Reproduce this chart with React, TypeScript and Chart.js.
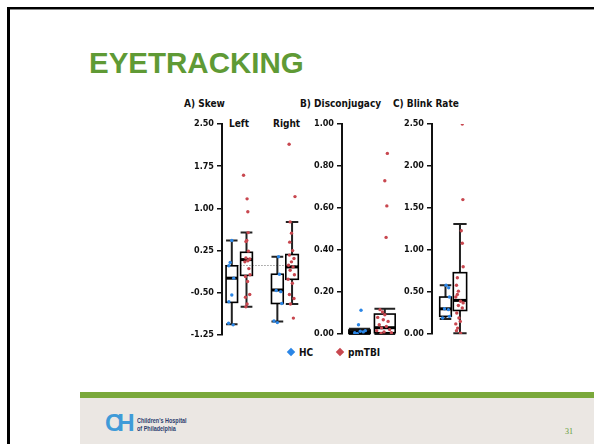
import React, { useEffect, useRef } from "react";
import { Chart, registerables } from "chart.js";

Chart.register(...registerables);

// ---------- DATA ----------
// Panel A: Skew (Left / Right eye)
const skewTicks = [-1.25, -0.5, 0.25, 1.0, 1.75, 2.5];
const skewLeftHC = [0.43, 0.04, -0.02, -0.24, -0.54, -0.66, -1.04, -1.07];
const skewLeftHCJit = [0, -0.11, -0.2, 0.13, 0, -0.2, -0.22, 0.09];
const skewLeftTBI = [1.59, 1.17, 0.94, 0.57, 0.43, 0.41, 0.24, 0.12, 0.1, 0.07, 0.05, -0.07, -0.18, -0.21, -0.3, -0.53, -0.58, -0.7, -0.75];
const skewLeftTBIJit = [-0.2, 0.04, 0.09, 0.11, 0.02, -0.04, 0.13, -0.04, 0.22, 0.09, -0.11, 0.16, 0.24, -0.07, 0.07, 0.22, -0.07, 0.04, -0.04];
const skewRightHC = [0.14, -0.17, -0.46, -0.48, -0.69, -1.0, -1.03];
const skewRightHCJit = [0.08, 0.14, -0.08, 0.23, 0.3, -0.23, 0];
const skewRightTBI = [2.14, 1.21, 0.76, 0.56, 0.4, 0.25, 0.17, 0.11, 0.05, -0.01, -0.04, -0.1, -0.18, -0.26, -0.33, -0.53, -0.6, -0.7, -0.95];
const skewRightTBIJit = [-0.2, 0.2, -0.13, -0.04, -0.16, 0.04, -0.18, 0.13, -0.04, -0.24, 0.07, -0.13, 0.16, -0.27, 0.02, -0.18, 0.13, -0.11, 0.09];
// box stats: [lower whisker, q1, median, q3, upper whisker]
const skewLeftHCBox = [-1.06, -0.67, -0.24, -0.02, 0.43];
const skewLeftTBIBox = [-0.75, -0.19, 0.09, 0.22, 0.57];
const skewRightHCBox = [-1.01, -0.69, -0.45, -0.17, 0.14];
const skewRightTBIBox = [-0.7, -0.26, -0.04, 0.18, 0.76];
const skewReference = 0;

// Panel B: Disconjugacy
const disTicks = [0, 0.2, 0.4, 0.6, 0.8, 1.0];
const disHC = [0.113, 0.044, 0.013, 0.003, 0.01, 0.016, 0.006];
const disHCJit = [0.06, -0.04, 0.03, -0.09, 0.15, 0.23, -0.19];
const disTBI = [0.86, 0.73, 0.61, 0.46, 0.116, 0.105, 0.092, 0.079, 0.068, 0.06, 0.044, 0.036, 0.029, 0.021, 0.016, 0.01, 0.006, 0.003];
const disTBIJit = [0.1, 0, 0.08, 0.05, -0.19, -0.09, 0, -0.28, -0.06, 0.13, -0.22, 0.06, -0.13, 0.19, -0.32, -0.03, 0.26, -0.15];
const disHCBox = [0.0, 0.003, 0.01, 0.019, 0.025];
const disTBIBox = [0.0, 0.006, 0.03, 0.095, 0.12];

// Panel C: Blink Rate
const blinkTicks = [0, 0.5, 1.0, 1.5, 2.0, 2.5];
const blinkHC = [0.58, 0.55, 0.44, 0.3, 0.29, 0.19, 0.21];
const blinkHCJit = [0.04, 0.22, 0.27, -0.07, 0.2, -0.2, 0.27];
const blinkTBI = [2.5, 1.6, 1.23, 1.08, 0.8, 0.67, 0.58, 0.51, 0.47, 0.44, 0.39, 0.37, 0.34, 0.31, 0.25, 0.19, 0.15, 0.12, 0.07, 0.04, 0.01];
const blinkTBIJit = [0.16, 0.2, 0.09, 0.16, 0.22, -0.18, -0.24, -0.11, -0.18, -0.29, 0.04, 0.22, -0.11, 0.16, -0.22, -0.07, 0.02, -0.29, -0.16, -0.24, 0.04];
const blinkHCBox = [0.18, 0.21, 0.3, 0.44, 0.58];
const blinkTBIBox = [0.01, 0.28, 0.4, 0.73, 1.31];

const seriesNames = ["HC", "pmTBI"];

// ---------- STYLE ----------
const BLUE = "#2b86e6";
const RED = "#c8474f";
const FONT = '"DejaVu Sans Condensed", "Liberation Sans Narrow", "DejaVu Sans", sans-serif';

type BoxDef = { pos: number; stats: number[]; width: number };
type PanelDef = {
  ticks: number[];
  decimals: number;
  xMin: number;
  xMax: number;
  boxes: BoxDef[];
  groups: { pos: number; values: number[]; jitter: number[]; color: string; label: string }[];
  refLine?: { value: number; from: number; to: number };
};

const boxPlugin = {
  id: "boxPlot",
  beforeDatasetsDraw(chart: any, _args: any, opts: any) {
    const { ctx } = chart;
    const x = chart.scales.x;
    const y = chart.scales.y;
    const panel: PanelDef = opts.panel;
    if (!panel) return;
    ctx.save();
    if (panel.refLine) {
      ctx.strokeStyle = "#9a9a9a";
      ctx.lineWidth = 1;
      ctx.setLineDash([1.5, 1.5]);
      const py = Math.round(y.getPixelForValue(panel.refLine.value)) + 0.5;
      ctx.beginPath();
      ctx.moveTo(x.getPixelForValue(panel.refLine.from), py);
      ctx.lineTo(x.getPixelForValue(panel.refLine.to), py);
      ctx.stroke();
      ctx.setLineDash([]);
    }
    for (const b of panel.boxes) {
      const cx = x.getPixelForValue(b.pos);
      const l = x.getPixelForValue(b.pos - b.width / 2);
      const r = x.getPixelForValue(b.pos + b.width / 2);
      const [lo, q1, med, q3, hi] = b.stats.map((v) => y.getPixelForValue(v));
      ctx.strokeStyle = "#222";
      ctx.lineWidth = 2;
      ctx.beginPath();
      ctx.moveTo(cx, q1);
      ctx.lineTo(cx, lo);
      ctx.moveTo(cx, q3);
      ctx.lineTo(cx, hi);
      ctx.moveTo(l, lo);
      ctx.lineTo(r, lo);
      ctx.moveTo(l, hi);
      ctx.lineTo(r, hi);
      ctx.stroke();
      ctx.strokeStyle = "#000";
      ctx.lineWidth = 1.6;
      ctx.strokeRect(l, q3, r - l, q1 - q3);
      ctx.lineWidth = 3;
      ctx.beginPath();
      ctx.moveTo(l, med);
      ctx.lineTo(r, med);
      ctx.stroke();
    }
    ctx.restore();
  },
};

function PanelChart({ panel, style }: { panel: PanelDef; style: React.CSSProperties }) {
  const ref = useRef<HTMLCanvasElement>(null);
  useEffect(() => {
    if (!ref.current) return;
    const chart = new Chart(ref.current, {
      type: "scatter",
      data: {
        datasets: panel.groups.map((g) => ({
          label: g.label,
          data: g.values.map((v, i) => ({ x: g.pos + g.jitter[i], y: v })),
          backgroundColor: g.color,
          borderWidth: 0,
          pointRadius: 1.7,
          pointHoverRadius: 1.7,
        })),
      },
      options: {
        animation: false,
        responsive: true,
        maintainAspectRatio: false,
        events: [],
        layout: { padding: { top: 10, bottom: 10, left: 0, right: 0 } },
        plugins: {
          legend: { display: false },
          tooltip: { enabled: false },
          boxPlot: { panel },
        } as any,
        scales: {
          x: { type: "linear", display: false, min: panel.xMin, max: panel.xMax },
          y: {
            type: "linear",
            min: panel.ticks[0],
            max: panel.ticks[panel.ticks.length - 1],
            afterBuildTicks: (s: any) => {
              s.ticks = panel.ticks.map((v) => ({ value: v }));
            },
            afterFit: (s: any) => {
              s.width = 36;
            },
            ticks: {
              callback: (v: any) => Number(v).toFixed(panel.decimals),
              font: { family: FONT, size: 9, weight: "bold" },
              color: "#111",
              padding: 3,
            },
            grid: { drawOnChartArea: false, drawTicks: true, tickLength: 5, color: "#111", lineWidth: 1.5 },
            border: { color: "#111", width: 2 },
          },
        },
      },
      plugins: [boxPlugin],
    } as any);
    return () => chart.destroy();
  }, []);
  return (
    <div style={{ position: "absolute", ...style }}>
      <canvas ref={ref} />
    </div>
  );
}

const panelA: PanelDef = {
  ticks: skewTicks,
  decimals: 2,
  xMin: 0.333,
  xMax: 5.933,
  boxes: [
    { pos: 1, stats: skewLeftHCBox, width: 0.78 },
    { pos: 2, stats: skewLeftTBIBox, width: 0.8 },
    { pos: 4.1, stats: skewRightHCBox, width: 0.8 },
    { pos: 5.1, stats: skewRightTBIBox, width: 0.85 },
  ],
  groups: [
    { pos: 1, values: skewLeftHC, jitter: skewLeftHCJit, color: BLUE, label: seriesNames[0] },
    { pos: 4.1, values: skewRightHC, jitter: skewRightHCJit, color: BLUE, label: seriesNames[0] },
    { pos: 2, values: skewLeftTBI, jitter: skewLeftTBIJit, color: RED, label: seriesNames[1] },
    { pos: 5.1, values: skewRightTBI, jitter: skewRightTBIJit, color: RED, label: seriesNames[1] },
  ],
  refLine: { value: skewReference, from: 0.55, to: 5.6 },
};

const panelB: PanelDef = {
  ticks: disTicks,
  decimals: 2,
  xMin: 0.3077,
  xMax: 2.731,
  boxes: [
    { pos: 1, stats: disHCBox, width: 0.84 },
    { pos: 2, stats: disTBIBox, width: 0.82 },
  ],
  groups: [
    { pos: 1, values: disHC, jitter: disHCJit, color: BLUE, label: seriesNames[0] },
    { pos: 2, values: disTBI, jitter: disTBIJit, color: RED, label: seriesNames[1] },
  ],
};

const panelC: PanelDef = {
  ticks: blinkTicks,
  decimals: 2,
  xMin: 0.0667,
  xMax: 3.267,
  boxes: [
    { pos: 1, stats: blinkHCBox, width: 0.8 },
    { pos: 2, stats: blinkTBIBox, width: 0.92 },
  ],
  groups: [
    { pos: 1, values: blinkHC, jitter: blinkHCJit, color: BLUE, label: seriesNames[0] },
    { pos: 2, values: blinkTBI, jitter: blinkTBIJit, color: RED, label: seriesNames[1] },
  ],
};

const labelStyle: React.CSSProperties = {
  position: "absolute",
  fontFamily: FONT,
  fontWeight: "bold",
  fontSize: 10,
  color: "#111",
  whiteSpace: "nowrap",
  lineHeight: "12px",
};

function Diamond({ color }: { color: string }) {
  return (
    <span
      style={{
        display: "inline-block",
        width: 6,
        height: 6,
        background: color,
        transform: "rotate(45deg)",
        marginRight: 5,
        verticalAlign: "middle",
        position: "relative",
        top: -1,
      }}
    />
  );
}

export default function App() {
  return (
    <div
      style={{
        position: "fixed",
        left: 0,
        top: 0,
        width: 594,
        height: 444,
        background: "#fff",
        overflow: "hidden",
      }}
    >
      {/* slide frame */}
      <div style={{ position: "absolute", left: 7, top: 7, width: 600, height: 2, background: "#000" }} />
      <div style={{ position: "absolute", left: 7, top: 9, width: 600, height: 1, background: "#888" }} />
      <div style={{ position: "absolute", left: 7, top: 7, width: 3, height: 450, background: "#000" }} />

      {/* title */}
      <div
        style={{
          position: "absolute",
          left: 89,
          top: 46,
          fontFamily: '"Liberation Sans", Arial, sans-serif',
          fontWeight: "bold",
          fontSize: 29.5,
          lineHeight: "34px",
          color: "#5f9a35",
        }}
      >
        EYETRACKING
      </div>

      {/* panel titles */}
      <div style={{ ...labelStyle, left: 184, top: 98 }}>A) Skew</div>
      <div style={{ ...labelStyle, left: 300, top: 98 }}>B) Disconjugacy</div>
      <div style={{ ...labelStyle, left: 393, top: 98 }}>C) Blink Rate</div>
      <div style={{ ...labelStyle, left: 229, top: 118 }}>Left</div>
      <div style={{ ...labelStyle, left: 273, top: 118 }}>Right</div>

      <PanelChart panel={panelA} style={{ left: 186, top: 114, width: 120, height: 231 }} />
      <PanelChart panel={panelB} style={{ left: 306, top: 114, width: 99, height: 230 }} />
      <PanelChart panel={panelC} style={{ left: 396, top: 114, width: 84, height: 230 }} />

      {/* legend */}
      <div style={{ ...labelStyle, left: 288, top: 347 }}>
        <Diamond color={BLUE} />
        {seriesNames[0]}
      </div>
      <div style={{ ...labelStyle, left: 337, top: 347 }}>
        <Diamond color={RED} />
        {seriesNames[1]}
      </div>

      {/* footer */}
      <div style={{ position: "absolute", left: 80, top: 392, width: 520, height: 6, background: "#7aa83a" }} />
      <div style={{ position: "absolute", left: 80, top: 398, width: 520, height: 50, background: "#ebe7e3" }} />
      <div
        style={{
          position: "absolute",
          left: 105,
          top: 410,
          fontFamily: '"Liberation Sans", Arial, sans-serif',
          fontWeight: "bold",
          fontSize: 24,
          lineHeight: "26px",
          color: "#3f9bd8",
          letterSpacing: -5,
        }}
      >
        CH
      </div>
      <div
        style={{
          position: "absolute",
          left: 137,
          top: 417,
          fontFamily: '"Liberation Sans", Arial, sans-serif',
          fontWeight: "bold",
          fontSize: 7,
          lineHeight: "8px",
          color: "#2c3d6e",
          whiteSpace: "nowrap",
          transform: "scaleX(0.78)",
          transformOrigin: "left top",
        }}
      >
        Children's Hospital
        <br />
        of Philadelphia
      </div>
      <div
        style={{
          position: "absolute",
          left: 565,
          top: 427,
          fontFamily: '"Liberation Serif", serif',
          fontSize: 8,
          lineHeight: "10px",
          color: "#5f9a35",
        }}
      >
        31
      </div>
    </div>
  );
}
